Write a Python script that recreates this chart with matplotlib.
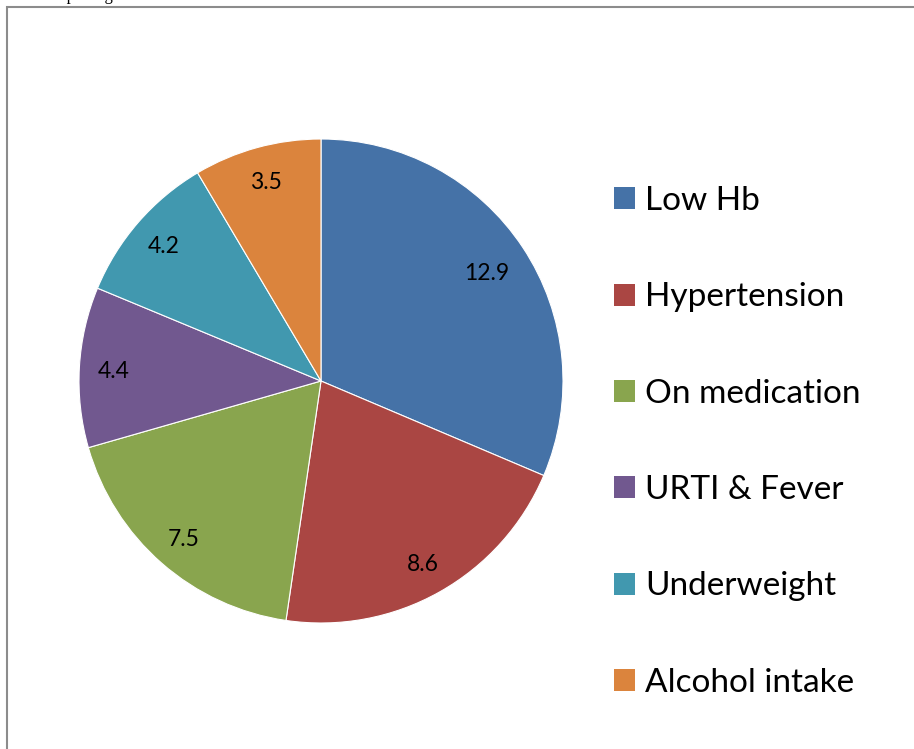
import matplotlib
matplotlib.use("Agg")
import matplotlib.pyplot as plt
from matplotlib.patches import Rectangle, Patch

plt.rcParams['font.family'] = ['Lato', 'DejaVu Sans']

# deferral causes
causes = ['Low Hb', 'Hypertension', 'On medication', 'URTI & Fever',
          'Underweight', 'Alcohol intake']
values = [12.9, 8.6, 7.5, 4.4, 4.2, 3.5]
colors = ['#4572A7', '#AA4643', '#89A54E', '#71588F', '#4198AF', '#DB843D']

W, H = 914, 749
fig = plt.figure(figsize=(W / 100, H / 100), dpi=100)

# chart frame (runs off the right and bottom edges)
fig.patches.append(Rectangle((7 / W, -0.1), 1.2, (H - 7) / H + 0.1,
                             transform=fig.transFigure, fill=False,
                             edgecolor='#8c8c8c', linewidth=1.5))
# caption cut off at top
fig.text(10 / W, (H - 0.5) / H, 'Chart depicting different causes of blood donor deferral.',
         family='Liberation Serif', fontsize=12, va='baseline', ha='left')

cx, cy, r = 321, 381, 242
ax = fig.add_axes([(cx - r) / W, (H - cy - r) / H, 2 * r / W, 2 * r / H])
wedges, texts = ax.pie(values, colors=colors, startangle=90, counterclock=False,
                       labels=[f'{v}' for v in values], labeldistance=0.86,
                       wedgeprops=dict(edgecolor='white', linewidth=0.8),
                       textprops=dict(fontsize=16.5))
for i, t in enumerate(texts):
    t.set_ha('center')
    t.set_va('center_baseline')
    if i == 0:
        x, y = t.get_position()
        t.set_position((x * 0.82 / 0.86, y * 0.82 / 0.86))
ax.set_xlim(-1, 1)
ax.set_ylim(-1, 1)
ax.set_aspect('equal')
ax.axis('off')

handles = [Patch(facecolor=c, edgecolor='none') for c in colors]
fig.legend(handles, causes, loc='upper left', bbox_to_anchor=(614 / W, (H - 186) / H),
           frameon=False, fontsize=24, handlelength=0.63, handleheight=0.63,
           handletextpad=0.3, labelspacing=1.99, borderpad=0, borderaxespad=0)

fig.savefig('out.png', dpi=100)
